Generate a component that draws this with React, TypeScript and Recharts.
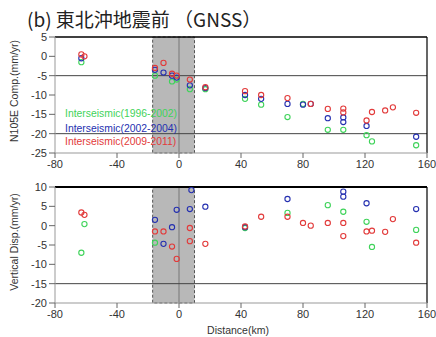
import React from 'react';
import { ScatterChart, Scatter, XAxis, YAxis, ReferenceLine, ReferenceArea } from 'recharts';

// Distance ticks
const xTicks = [-80, -40, 0, 40, 80, 120, 160];
const nTicks = [5, 0, -5, -10, -15, -20, -25];
const vTicks = [10, 5, 0, -5, -10, -15, -20];

// N105E component (mm/yr)
const greenNx = [-63, -15.5, -4.5, -1.5, 7, 17, 42.6, 53, 70, 80, 96, 106, 121, 124.5, 153];
const greenN = [-1.5, -5, -6.5, -6, -8.5, -8.5, -11, -12.5, -15.7, -12.3, -19, -19, -20.4, -22, -23];
const blueNx = [-63, -15.5, -10, -4.5, -1.5, 7, 17, 42.6, 53, 70, 80, 85, 96, 106, 106, 121, 153];
const blueN = [-0.5, -3.5, -4.2, -5, -5.5, -7.5, -8.2, -10, -11, -12.3, -12.5, -12.3, -16, -15.8, -17, -18, -20.8];
const redNx = [-63, -61, -15.5, -10, -4.5, -1.5, 7, 17, 42.6, 53, 70, 85, 96, 106, 106, 121, 124.5, 133, 138, 153];
const redN = [0.5, 0, -3, -1.7, -4.5, -5, -6, -8, -9, -10, -10.8, -12.3, -13.6, -13.5, -14.5, -16.6, -14.4, -14, -13.2, -14.6];

// Vertical displacement (mm/yr)
const greenVx = [-63, -61, -15.5, 42.6, 70, 96, 106, 121, 124.5, 153];
const greenV = [-7, 0.4, -4.4, -0.6, 3.3, 5.3, 3.6, 1, -5.5, -1.1];
const blueVx = [-15.5, -10, -4.5, -1.5, 7, 8, 17, 42.6, 70, 106, 106, 121, 153];
const blueV = [1.5, -4.7, -0.4, 4.1, 4.3, 9.2, 4.9, -0.4, 6.9, 8.8, 7.5, 5.8, 4.3];
const redVx = [-63, -61, -15.5, -10, -4.5, -1.5, 7, 7, 17, 42.6, 53, 70, 80, 85, 96, 106, 106, 121, 124.5, 133, 138, 153];
const redV = [3.4, 2.8, -1.5, -1.5, -5.4, -8.6, -0.6, -4, -4.7, -0.2, 2.3, 2.3, 0.7, 0, 0.7, 0.7, -2.7, -1.5, -1.3, -1.6, 1.7, -4.4];

const legendLabels = ['Interseismic(1996-2002)', 'Interseismic(2002-2004)', 'Interseismic(2009-2011)'];

const GREEN = '#3fd35a';
const BLUE = '#2530b0';
const RED = '#e23a3a';

const zip = (xs: number[], ys: number[]) => xs.map((x, i) => ({ x, y: ys[i] }));

const marker = (color: string) => (p: any) => (
  <circle cx={p.cx} cy={p.cy} r={2.6} fill="none" stroke={color} strokeWidth={1.1} />
);

const tickStyle = { fontSize: 11, fill: '#333', fontFamily: 'Liberation Sans, Arial, sans-serif' };

function Panel({ top, height, xAxisH, yTicks, domain, lines, series, frameY, frameW }: any) {
  return (
    <div style={{ position: 'absolute', left: 0, top }}>
      <ScatterChart width={436} height={height} margin={{ top: top === 0 ? 37 : 17, right: 9, bottom: 0, left: 35 }}>
        <XAxis type="number" dataKey="x" domain={[-80, 160]} ticks={xTicks} height={xAxisH}
          tick={tickStyle} tickSize={5} axisLine={{ stroke: '#999' }} tickLine={{ stroke: '#666' }} interval={0} />
        <YAxis type="number" dataKey="y" domain={domain} ticks={yTicks} width={20}
          tick={tickStyle} tickSize={6} axisLine={{ stroke: '#999' }} tickLine={{ stroke: '#666' }} interval={0} />
        <ReferenceArea x1={-17} x2={10} fill="#888" fillOpacity={0.6} stroke="#555" strokeDasharray="3 2" ifOverflow="extendDomain" />
        <ReferenceLine x={0} stroke="#777" strokeWidth={1} />
        {lines.map((v: number) => (
          <ReferenceLine key={v} y={v} stroke="#444" strokeWidth={1} />
        ))}
        <ReferenceLine y={frameY} stroke="#000" strokeWidth={frameW} />
        <ReferenceLine x={160} stroke="#000" strokeWidth={1.2} />
        {series.map((s: any, i: number) => (
          <Scatter key={i} data={s.data} shape={marker(s.color)} isAnimationActive={false} />
        ))}
      </ScatterChart>
    </div>
  );
}

export default function App() {
  const topSeries = [
    { data: zip(greenNx, greenN), color: GREEN },
    { data: zip(blueNx, blueN), color: BLUE },
    { data: zip(redNx, redN), color: RED },
  ];
  const botSeries = [
    { data: zip(greenVx, greenV), color: GREEN },
    { data: zip(blueVx, blueV), color: BLUE },
    { data: zip(redVx, redV), color: RED },
  ];
  const font = 'Liberation Sans, Arial, sans-serif';
  return (
    <div style={{ position: 'absolute', left: 0, top: 0, width: 436, height: 337, background: '#fff' }}>
      <Panel top={0} height={170} xAxisH={17} yTicks={nTicks} domain={[-25, 5]} lines={[-5, -20]}
        series={topSeries} frameY={5} frameW={1.5} />
      <Panel top={170} height={167} xAxisH={34} yTicks={vTicks} domain={[-20, 10]} lines={[-15]}
        series={botSeries} frameY={10} frameW={2} />
      <svg width={436} height={337} style={{ position: 'absolute', left: 0, top: 0, pointerEvents: 'none' }}>
        <text x={27} y={27} fontSize={19} fontFamily="Noto Sans CJK JP" fill="#222">(b) 東北沖地震前 （GNSS）</text>
        <text transform="translate(18,91) rotate(-90)" textAnchor="middle" fontSize={10.5} fontFamily={font} fill="#333">N105E Comp.(mm/yr)</text>
        <text transform="translate(18,242) rotate(-90)" textAnchor="middle" fontSize={10.5} fontFamily={font} fill="#333">Vertical Disp.(mm/yr)</text>
        <text x={238} y={334} textAnchor="middle" fontSize={10.5} fontFamily={font} fill="#333">Distance(km)</text>
        <text x={65} y={117} fontSize={10.4} fontFamily={font} fill={GREEN}>{legendLabels[0]}</text>
        <text x={65} y={132} fontSize={10.4} fontFamily={font} fill={BLUE}>{legendLabels[1]}</text>
        <text x={65} y={145} fontSize={10.4} fontFamily={font} fill={RED}>{legendLabels[2]}</text>
      </svg>
    </div>
  );
}
